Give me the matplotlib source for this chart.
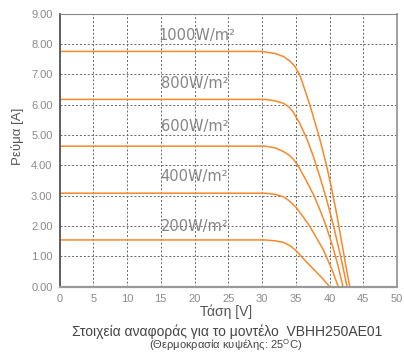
import matplotlib.pyplot as plt

# I-V curves (voltage [V], current [A])
v_1000 = [0, 30.0, 32.0, 33.2, 34.2, 34.9, 35.6, 36.4, 37.1, 38.0, 38.7, 39.5, 40.3, 41.1, 41.9, 42.5, 43.0]
i_1000 = [7.75, 7.75, 7.68, 7.58, 7.42, 7.25, 6.97, 6.45, 5.98, 5.30, 4.75, 4.05, 3.25, 2.35, 1.35, 0.60, 0.0]

v_800 = [0, 30.5, 32.0, 33.2, 34.0, 34.6, 35.6, 36.6, 37.6, 38.6, 39.6, 40.6, 41.6, 42.6]
i_800 = [6.17, 6.17, 6.12, 6.04, 5.92, 5.76, 5.38, 4.90, 4.30, 3.60, 2.85, 2.00, 1.05, 0.0]

v_600 = [0, 30.5, 32.0, 33.2, 34.1, 34.7, 35.3, 36.5, 37.7, 38.6, 39.5, 40.3, 41.2, 42.0]
i_600 = [4.63, 4.63, 4.57, 4.45, 4.32, 4.18, 4.00, 3.52, 3.00, 2.52, 2.00, 1.45, 0.75, 0.0]

v_400 = [0, 30.5, 32.0, 33.2, 34.1, 35.1, 36.1, 37.1, 38.1, 39.1, 40.3, 41.3]
i_400 = [3.08, 3.08, 3.04, 2.96, 2.82, 2.60, 2.30, 1.98, 1.60, 1.21, 0.60, 0.0]

v_200 = [0, 30.5, 32.0, 33.2, 34.3, 35.2, 36.1, 37.1, 38.1, 39.1, 40.0]
i_200 = [1.54, 1.54, 1.51, 1.46, 1.33, 1.15, 0.93, 0.70, 0.47, 0.24, 0.0]

labels = ['1000W/m²', '800W/m²', '600W/m²', '400W/m²', '200W/m²']
label_x = [14.6, 15.0, 15.0, 15.0, 15.0]
label_y = [8.29, 6.70, 5.27, 3.62, 1.98]

x_ticks = [0, 5, 10, 15, 20, 25, 30, 35, 40, 45, 50]
y_ticks = [0, 1, 2, 3, 4, 5, 6, 7, 8, 9]

curves = [(v_1000, i_1000), (v_800, i_800), (v_600, i_600), (v_400, i_400), (v_200, i_200)]

plt.rcParams['font.family'] = ['Liberation Sans', 'DejaVu Sans']

fig = plt.figure(figsize=(4.04, 3.53), dpi=100)
ax = fig.add_axes([59.5 / 404, 1 - 286.7 / 353, (397 - 59.5) / 404, (286.7 - 13.5) / 353])

orange = '#f7892a'
for v, i in curves:
    ax.plot(v, i, color=orange, linewidth=1.1, solid_joinstyle='round')

for txt, tx, ty in zip(labels, label_x, label_y):
    ax.text(tx, ty, txt, fontsize=10.5, color='#858585', va='center', ha='left',
            family=['DejaVu Sans'])

ax.set_xlim(0, 50)
ax.set_ylim(0, 9)
ax.set_xticks(x_ticks)
ax.set_yticks(y_ticks)
ax.set_yticklabels(['%.2f' % t for t in y_ticks])
ax.tick_params(length=0, labelsize=8, labelcolor='#8a8a8a', pad=5)
ax.grid(True, color='#666666', linestyle=(0, (2, 2)), linewidth=0.7)
ax.set_axisbelow(True)

ax.spines['left'].set_color('#555555')
ax.spines['left'].set_linewidth(1.3)
ax.spines['bottom'].set_color('#999999')
ax.spines['bottom'].set_linewidth(1.6)
ax.spines['top'].set_color('#888888')
ax.spines['top'].set_linewidth(0.8)
ax.spines['right'].set_color('#999999')
ax.spines['right'].set_linewidth(1.3)

fig.text(17.5 / 404, 1 - 136 / 353, 'Ρεύμα [A]', rotation=90, ha='center', va='center',
         fontsize=9.5, color='#555555')
fig.text(226 / 404, 1 - 312 / 353, 'Τάση [V]', ha='center', va='center',
         fontsize=10, color='#555555')
fig.text(227 / 404, 1 - 331.5 / 353, 'Στοιχεία αναφοράς για το μοντέλο  VBHH250AE01',
         ha='center', va='center', fontsize=10, color='#444444')
fig.text(226 / 404, 1 - 345.5 / 353, '(Θερμοκρασία κυψέλης: 25$^{\\mathregular{O}}$C)',
         ha='center', va='center', fontsize=8, color='#444444')

fig.savefig('out.png', dpi=100)
